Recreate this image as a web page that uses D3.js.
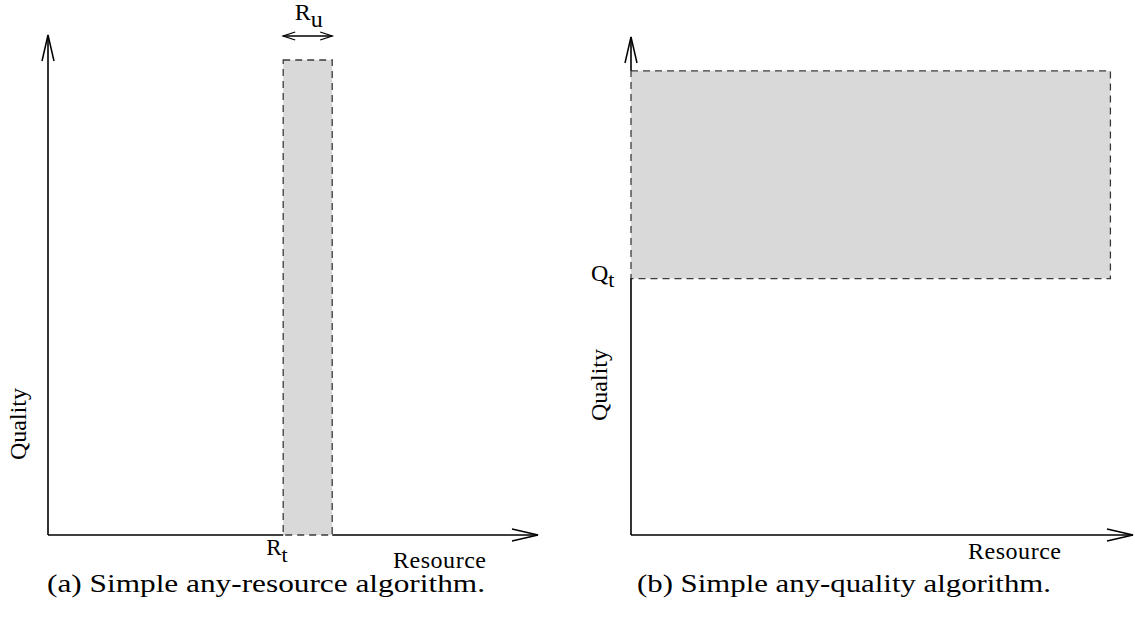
<!DOCTYPE html>
<html>
<head>
<meta charset="utf-8">
<script src="https://cdn.jsdelivr.net/npm/d3@7/dist/d3.min.js"></script>
<style>
  html, body { margin: 0; padding: 0; background: #fff; }
  svg { display: block; }
  text { font-family: "Liberation Serif", "DejaVu Serif", serif; fill: #000; }
</style>
</head>
<body>
<svg id="chart" width="1135" height="617"></svg>
<script>
// Conceptual axes: both run 0..10 in arbitrary units
const axisDomain = [0, 10];

// (a) any-resource: a band of width Ru starting at Rt, spanning quality up to qTopA
const resourceStart = 4.8;   // R_t
const resourceUncert = 1.0;  // R_u
const qTopA = 9.5;

// (b) any-quality: a band above Q_t spanning resource up to rEndB
const qualityThreshold = 5.15; // Q_t
const qTopB = 9.32;
const rEndB = 9.55;

const axisTitles = ["Resource", "Quality"];
const captions = ["(a) Simple any-resource algorithm.", "(b) Simple any-quality algorithm."];

const svg = d3.select("#chart");

const panels = [
  { x0: 48, x1: 538, y0: 535, y1: 35 },
  { x0: 631, x1: 1133, y0: 535, y1: 37 }
];

// open chevron arrowhead at (tx,ty) pointing along angle
function arrowHead(g, tx, ty, ang, len, half, w) {
  const c = Math.cos(ang), s = Math.sin(ang);
  const bx = tx - c * len, by = ty - s * len;
  const px = -s * half, py = c * half;
  g.append("path")
    .attr("d", `M${bx + px},${by + py}L${tx},${ty}L${bx - px},${by - py}`)
    .attr("fill", "none").attr("stroke", "#000").attr("stroke-width", w || 1.5);
}

// axis lines are interrupted where a band edge lies on them (the band's dashed edge shows there)
function drawAxes(g, x, y, xGaps, yGaps) {
  const line = d3.line();
  const xEnd = x.invert(x.range()[1]), yEnd = y.invert(y.range()[1]);
  function pieces(end, gaps) {
    const out = []; let a = 0;
    gaps.forEach(([g0, g1]) => { out.push([a, g0]); a = g1; });
    out.push([a, end]);
    return out;
  }
  pieces(xEnd, xGaps).forEach(([a, b]) => {
    g.append("path").attr("d", line([[x(a), y(0)], [x(b), y(0)]]))
      .attr("stroke", "#000").attr("stroke-width", 1.6).attr("fill", "none");
  });
  pieces(yEnd, yGaps).forEach(([a, b]) => {
    g.append("path").attr("d", line([[x(0), y(a)], [x(0), y(b)]]))
      .attr("stroke", "#000").attr("stroke-width", 1.6).attr("fill", "none");
  });
  arrowHead(g, x.range()[1], y(0), 0, 26, 6);
  arrowHead(g, x(0), y.range()[1], -Math.PI / 2, 26, 6);
}

function band(g, x, y, xa, xb, ya, yb) {
  g.append("rect")
    .attr("x", x(xa)).attr("y", y(yb))
    .attr("width", x(xb) - x(xa)).attr("height", y(ya) - y(yb))
    .attr("fill", "#d9d9d9")
    .attr("stroke", "#3a3a3a").attr("stroke-width", 1.3)
    .attr("stroke-dasharray", "7,5");
}

// ---- panel (a)
{
  const p = panels[0];
  const x = d3.scaleLinear().domain(axisDomain).range([p.x0, p.x1]);
  const y = d3.scaleLinear().domain(axisDomain).range([p.y0, p.y1]);
  const g = svg.append("g");
  band(g, x, y, resourceStart, resourceStart + resourceUncert, 0, qTopA);
  drawAxes(g, x, y, [[resourceStart, resourceStart + resourceUncert]], []);

  // R_u width marker
  const ay = 36;
  const xa = x(resourceStart), xb = x(resourceStart + resourceUncert);
  g.append("line").attr("x1", xa).attr("x2", xb).attr("y1", ay).attr("y2", ay)
    .attr("stroke", "#000").attr("stroke-width", 1.3);
  arrowHead(g, xb, ay, 0, 12, 4, 1.3);
  arrowHead(g, xa, ay, Math.PI, 12, 4, 1.3);
  const ru = g.append("text").attr("x", (xa + xb) / 2 + 1).attr("y", 20)
    .attr("text-anchor", "middle").attr("font-size", 24);
  ru.append("tspan").text("R");
  ru.append("tspan").attr("dy", 7).text("u");

  const rt = g.append("text").attr("x", x(resourceStart) - 17).attr("y", 555)
    .attr("font-size", 23);
  rt.append("tspan").text("R");
  rt.append("tspan").attr("dy", 7).attr("font-size", 22).text("t");

  g.append("text").attr("x", 393).attr("y", 568).attr("font-size", 24)
    .attr("textLength", 93).text(axisTitles[0]);
  g.append("text").attr("transform", "translate(26,424) rotate(-90)")
    .attr("text-anchor", "middle").attr("font-size", 24).text(axisTitles[1]);

  g.append("text").attr("x", 47).attr("y", 592).attr("font-size", 25)
    .attr("textLength", 438).attr("lengthAdjust", "spacingAndGlyphs")
    .text(captions[0]);
}

// ---- panel (b)
{
  const p = panels[1];
  const x = d3.scaleLinear().domain(axisDomain).range([p.x0, p.x1]);
  const y = d3.scaleLinear().domain(axisDomain).range([p.y0, p.y1]);
  const g = svg.append("g");
  band(g, x, y, 0, rEndB, qualityThreshold, qTopB);
  drawAxes(g, x, y, [], [[qualityThreshold, qTopB]]);

  const qt = g.append("text").attr("x", 591).attr("y", 281).attr("font-size", 24);
  qt.append("tspan").text("Q");
  qt.append("tspan").attr("dy", 6).attr("font-size", 22).text("t");

  g.append("text").attr("x", 968).attr("y", 559).attr("font-size", 24)
    .attr("textLength", 93).text(axisTitles[0]);
  g.append("text").attr("transform", "translate(607,385) rotate(-90)")
    .attr("text-anchor", "middle").attr("font-size", 24).text(axisTitles[1]);

  g.append("text").attr("x", 637).attr("y", 592).attr("font-size", 25)
    .attr("textLength", 414).attr("lengthAdjust", "spacingAndGlyphs")
    .text(captions[1]);
}
</script>
</body>
</html>
